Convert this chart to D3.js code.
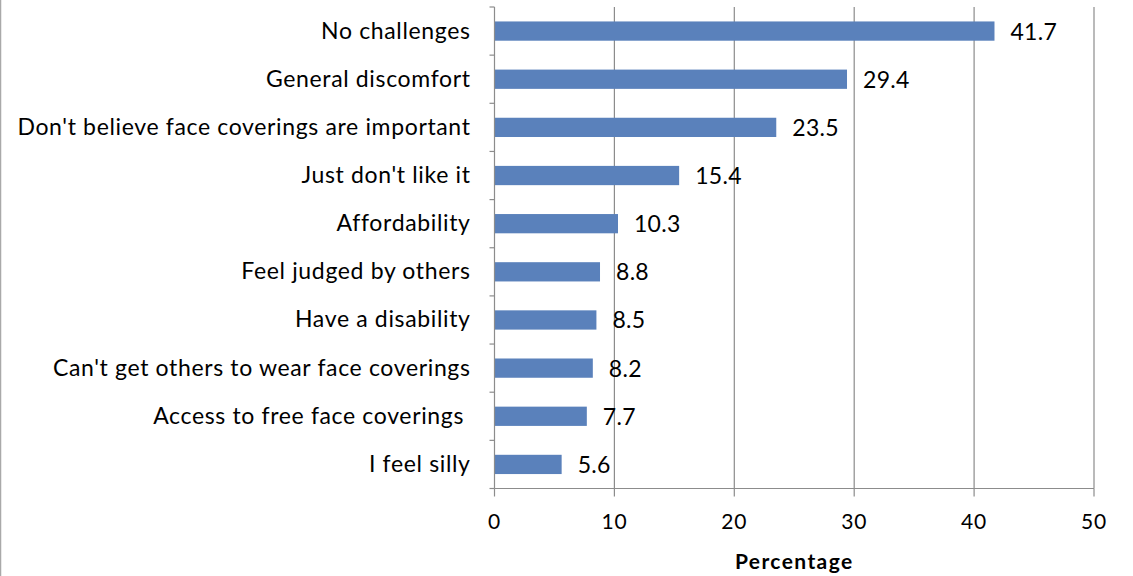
<!DOCTYPE html>
<html><head><meta charset="utf-8">
<script src="https://cdn.jsdelivr.net/npm/d3@7"></script>
<style>
html,body{margin:0;padding:0;background:#fff;}
svg{display:block;font-family:Lato, "Open Sans", sans-serif;}
</style></head>
<body>
<svg id="chart" width="1133" height="576"></svg>
<script>
const categories = ["No challenges","General discomfort","Don't believe face coverings are important","Just don't like it","Affordability","Feel judged by others","Have a disability","Can't get others to wear face coverings","Access to free face coverings ","I feel silly"];
const values = [41.7,29.4,23.5,15.4,10.3,8.8,8.5,8.2,7.7,5.6];
const xTicks = [0,10,20,30,40,50];
const xTitle = "Percentage";

const svg = d3.select("#chart");
const pLeft = 494.5, pRight = 1094, pTop = 7, pBottom = 488.5;
const x = d3.scaleLinear().domain([0,50]).range([pLeft,pRight]);
const y = d3.scaleBand().domain(categories).range([pTop,pBottom]).paddingInner(0.6).paddingOuter(0.3);
const yTicks = d3.scaleBand().domain(categories).range([pTop,pBottom]);

// border
svg.append("line").attr("x1",0.5).attr("x2",0.5).attr("y1",0).attr("y2",576).attr("stroke","#a9a9a9").attr("stroke-width",1.5);

// gridlines
svg.append("g").selectAll("line").data(xTicks.slice(1)).join("line")
  .attr("x1",d=>x(d)).attr("x2",d=>x(d))
  .attr("y1",pTop).attr("y2",pBottom).attr("stroke","#8c8c8c").attr("stroke-width",1.2);

// bars
svg.append("g").selectAll("rect").data(values).join("rect")
  .attr("x",x(0)).attr("y",(d,i)=>y(categories[i]))
  .attr("width",d=>x(d)-x(0)).attr("height",y.bandwidth())
  .attr("fill","#5A81BB");

// y axis
const ya = svg.append("g");
ya.append("line").attr("x1",pLeft).attr("x2",pLeft).attr("y1",pTop).attr("y2",pBottom).attr("stroke","#8c8c8c").attr("stroke-width",1.2);
const yt = categories.map(c=>yTicks(c)).concat([pBottom]);
ya.selectAll("line.t").data(yt).join("line").attr("class","t")
  .attr("x1",pLeft-5).attr("x2",pLeft).attr("y1",d=>d).attr("y2",d=>d).attr("stroke","#8c8c8c").attr("stroke-width",1.2);
ya.selectAll("text").data(categories).join("text")
  .attr("x",470.6).attr("y",d=>yTicks(d)+yTicks.bandwidth()/2+7.5)
  .attr("text-anchor","end").attr("font-size",23).attr("letter-spacing","0.65px").attr("fill","#000")
  .style("white-space","pre").text(d=>d);

// x axis
const xa = svg.append("g");
xa.append("line").attr("x1",pLeft).attr("x2",pRight).attr("y1",pBottom).attr("y2",pBottom).attr("stroke","#8c8c8c").attr("stroke-width",1.2);
xa.selectAll("line.t").data(xTicks).join("line").attr("class","t")
  .attr("x1",d=>x(d)).attr("x2",d=>x(d)).attr("y1",pBottom).attr("y2",pBottom+8).attr("stroke","#8c8c8c").attr("stroke-width",1.2);
xa.selectAll("text").data(xTicks).join("text")
  .attr("x",d=>x(d)).attr("y",529).attr("text-anchor","middle").attr("font-size",21).attr("letter-spacing","0.8px").attr("fill","#000").text(d=>d);
svg.append("text").attr("x",(pLeft+pRight)/2).attr("y",568.5).attr("text-anchor","middle")
  .attr("font-size",21).attr("letter-spacing","1.4px").attr("font-weight","bold").attr("fill","#000").text(xTitle);

// value labels
svg.append("g").selectAll("text").data(values).join("text")
  .attr("x",d=>x(d)+16).attr("y",(d,i)=>y(categories[i])+y.bandwidth()/2+8.5)
  .attr("font-size",23).attr("letter-spacing","0.3px").attr("fill","#000").text(d=>d.toFixed(1));
</script>
</body></html>
